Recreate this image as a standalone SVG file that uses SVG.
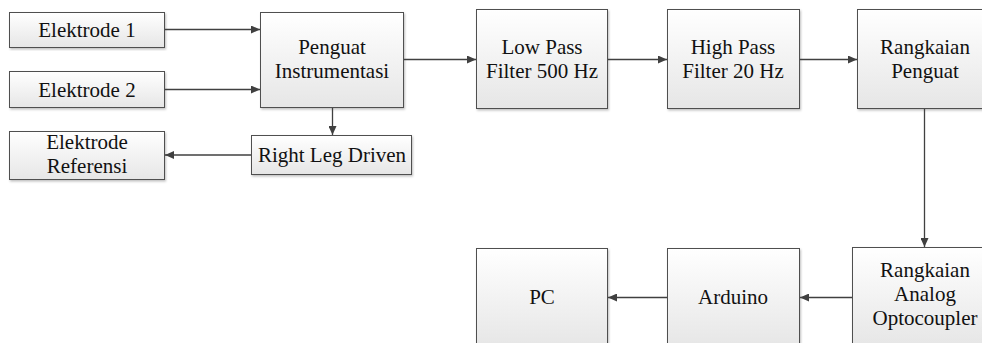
<svg xmlns="http://www.w3.org/2000/svg" width="982" height="343" viewBox="0 0 982 343">
<defs>
<linearGradient id="g" x1="0" y1="0" x2="0" y2="1">
<stop offset="0" stop-color="#ffffff"/>
<stop offset="1" stop-color="#e6e6e6"/>
</linearGradient>
<marker id="ah" markerWidth="10" markerHeight="8" refX="9" refY="4" orient="auto" markerUnits="userSpaceOnUse">
<path d="M0,0 L9,4 L0,8 Z" fill="#404040"/>
</marker>
<filter id="sh" x="-5%" y="-5%" width="110%" height="115%">
<feDropShadow dx="1" dy="1.5" stdDeviation="0.8" flood-color="#000" flood-opacity="0.25"/>
</filter>
</defs>
<style>
.box{fill:url(#g);stroke:#505050;stroke-width:1;filter:url(#sh)}
.t{font-family:'Liberation Serif','Times New Roman',serif;font-size:21px;fill:#111;text-anchor:middle}
.c{stroke:#404040;stroke-width:1.3;fill:none;marker-end:url(#ah)}
</style>
<rect width="982" height="343" fill="#ffffff"/>
<g id="elektrode1"><rect class="box" x="9.5" y="12.5" width="155" height="35"/><text class="t" x="87" y="37">Elektrode 1</text></g>
<g id="elektrode2"><rect class="box" x="9.5" y="71.5" width="155" height="36"/><text class="t" x="87" y="97">Elektrode 2</text></g>
<g id="elektrodeRef"><rect class="box" x="9.5" y="131.5" width="155" height="48"/><text class="t" x="87" y="149">Elektrode</text><text class="t" x="87" y="173">Referensi</text></g>
<g id="penguatInstr"><rect class="box" x="260.5" y="12.5" width="143" height="95"/><text class="t" x="332" y="54">Penguat</text><text class="t" x="332" y="78">Instrumentasi</text></g>
<g id="rld"><rect class="box" x="251.5" y="135.5" width="160" height="39"/><text class="t" x="332" y="162">Right Leg Driven</text></g>
<g id="lpf"><rect class="box" x="476.5" y="9.5" width="131" height="99"/><text class="t" x="542" y="54">Low Pass</text><text class="t" x="542" y="78">Filter 500 Hz</text></g>
<g id="hpf"><rect class="box" x="667.5" y="9.5" width="132" height="99"/><text class="t" x="733" y="54">High Pass</text><text class="t" x="733" y="78">Filter 20 Hz</text></g>
<g id="penguat"><rect class="box" x="857.5" y="9.5" width="140" height="99"/><text class="t" x="925" y="54">Rangkaian</text><text class="t" x="925" y="78">Penguat</text></g>
<g id="opto"><rect class="box" x="852.5" y="247.5" width="145" height="99"/><text class="t" x="925" y="277">Rangkaian</text><text class="t" x="925" y="301">Analog</text><text class="t" x="925" y="325">Optocoupler</text></g>
<g id="arduino"><rect class="box" x="667.5" y="248.5" width="132" height="99"/><text class="t" x="733" y="304">Arduino</text></g>
<g id="pc"><rect class="box" x="476.5" y="248.5" width="131" height="99"/><text class="t" x="542" y="304">PC</text></g>
<g id="connectors">
<line class="c" x1="165" y1="29.5" x2="260" y2="29.5"/>
<line class="c" x1="165" y1="89.5" x2="260" y2="89.5"/>
<line class="c" x1="332.5" y1="108" x2="332.5" y2="135"/>
<line class="c" x1="251" y1="155" x2="165" y2="155"/>
<line class="c" x1="404" y1="59.5" x2="476" y2="59.5"/>
<line class="c" x1="608" y1="59.5" x2="667" y2="59.5"/>
<line class="c" x1="800" y1="59.5" x2="857" y2="59.5"/>
<line class="c" x1="924.5" y1="109" x2="924.5" y2="247"/>
<line class="c" x1="852" y1="297.5" x2="800" y2="297.5"/>
<line class="c" x1="667" y1="297.5" x2="608" y2="297.5"/>
</g>
</svg>
